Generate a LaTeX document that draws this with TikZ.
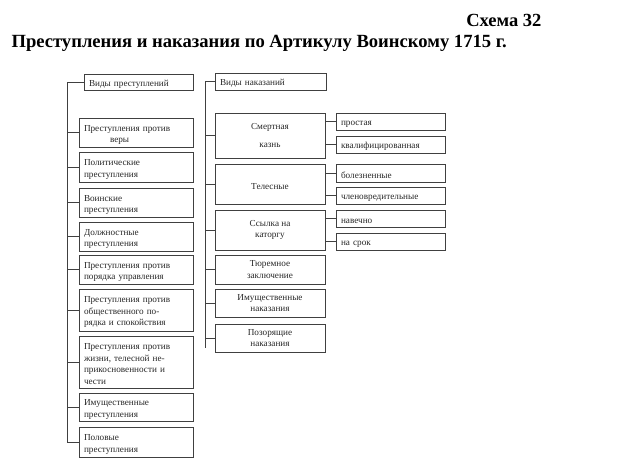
\documentclass[tikz,border=0pt]{standalone}
\usepackage{fontspec}
\setmainfont{Liberation Serif}
\begin{document}
\begin{tikzpicture}[x=1pt,y=-1pt,
  box/.style={draw=black!75, line width=0.7pt, inner sep=0pt, font=\fontsize{9.2}{11.5}\selectfont, text=black!85, execute at begin node={\rule{0pt}{10.5pt}}},
  cbox/.style={box, align=center},
  conn/.style={draw=black!75, line width=0.7pt}]
\useasboundingbox (0,0) rectangle (619,471);
\node[font=\bfseries\fontsize{18.5}{21}\selectfont, anchor=east] (sch) at (545,20) {Схема 32};
\node[font=\bfseries\fontsize{18.6}{21}\selectfont, anchor=west] (ttl) at (8,43) {Преступления и наказания по Артикулу Воинскому 1715 г.};
% crimes
\node[box, minimum width=109, minimum height=16, text width=99, align=left] (c0) at (138.5,82) {Виды преступлений};
\node[box, minimum width=114, minimum height=29, text width=104, align=left] (c1) at (136,132.5) {Преступления против\\\hspace*{26pt}веры};
\node[box, minimum width=114, minimum height=30, text width=104, align=left] (c2) at (136,167) {Политические\\преступления};
\node[box, minimum width=114, minimum height=29, text width=104, align=left] (c3) at (136,202.5) {Воинские\\преступления};
\node[box, minimum width=114, minimum height=29, text width=104, align=left] (c4) at (136,236.5) {Должностные\\преступления};
\node[box, minimum width=114, minimum height=29, text width=104, align=left] (c5) at (136,269.5) {Преступления против\\порядка управления};
\node[box, minimum width=114, minimum height=42, text width=104, align=left] (c6) at (136,310) {Преступления против\\общественного по-\\рядка и спокойствия};
\node[box, minimum width=114, minimum height=52, text width=104, align=left] (c7) at (136,362) {Преступления против\\жизни, телесной не-\\прикосновенности и\\чести};
\node[box, minimum width=114, minimum height=28, text width=104, align=left] (c8) at (136,407) {Имущественные\\преступления};
\node[box, minimum width=114, minimum height=30, text width=104, align=left] (c9) at (136,442) {Половые\\преступления};
\coordinate (lt) at (67,82);
\coordinate (lb) at (67,442);
\draw[conn] (c0.west) -- (lt) -- (lb) -- (c9.west);
\foreach \i in {1,...,8} {\draw[conn] (c\i.west) -- (c\i.west -| lt);}
% punishments
\node[box, minimum width=111, minimum height=17, text width=101, align=left] (p0) at (270.5,81.5) {Виды наказаний};
\node[cbox, minimum width=110, minimum height=45] (p1) at (270,135.5) {Смертная\\[6pt]казнь};
\node[cbox, minimum width=110, minimum height=40] (p2) at (270,184) {Телесные};
\node[cbox, minimum width=110, minimum height=40] (p3) at (270,230) {Ссылка на\\каторгу};
\node[cbox, minimum width=110, minimum height=29] (p4) at (270,269.5) {Тюремное\\заключение};
\node[cbox, minimum width=110, minimum height=28] (p5) at (270,303) {Имущественные\\наказания};
\node[cbox, minimum width=110, minimum height=28] (p6) at (270,338) {Позорящие\\наказания};
\coordinate (rt) at (205,81.5);
\coordinate (rb) at (205,348);
\draw[conn] (p0.west) -- (rt) -- (rb);
\foreach \i in {1,...,6} {\draw[conn] (p\i.west) -- (p\i.west -| rt);}
% sub types
\node[box, minimum width=109, minimum height=17, text width=99, align=left] (s1) at (390.5,121.5) {простая};
\node[box, minimum width=109, minimum height=17, text width=99, align=left] (s2) at (390.5,144.5) {квалифицированная};
\node[box, minimum width=109, minimum height=18, text width=99, align=left] (s3) at (390.5,173) {болезненные};
\node[box, minimum width=109, minimum height=17, text width=99, align=left] (s4) at (390.5,195.5) {членовредительные};
\node[box, minimum width=109, minimum height=17, text width=99, align=left] (s5) at (390.5,218.5) {навечно};
\node[box, minimum width=109, minimum height=17, text width=99, align=left] (s6) at (390.5,241.5) {на срок};
\draw[conn] (s1.west) -- (s1.west -| p1.east);
\draw[conn] (s2.west) -- (s2.west -| p1.east);
\draw[conn] (s3.west) -- (s3.west -| p2.east);
\draw[conn] (s4.west) -- (s4.west -| p2.east);
\draw[conn] (s5.west) -- (s5.west -| p3.east);
\draw[conn] (s6.west) -- (s6.west -| p3.east);
\end{tikzpicture}
\end{document}
